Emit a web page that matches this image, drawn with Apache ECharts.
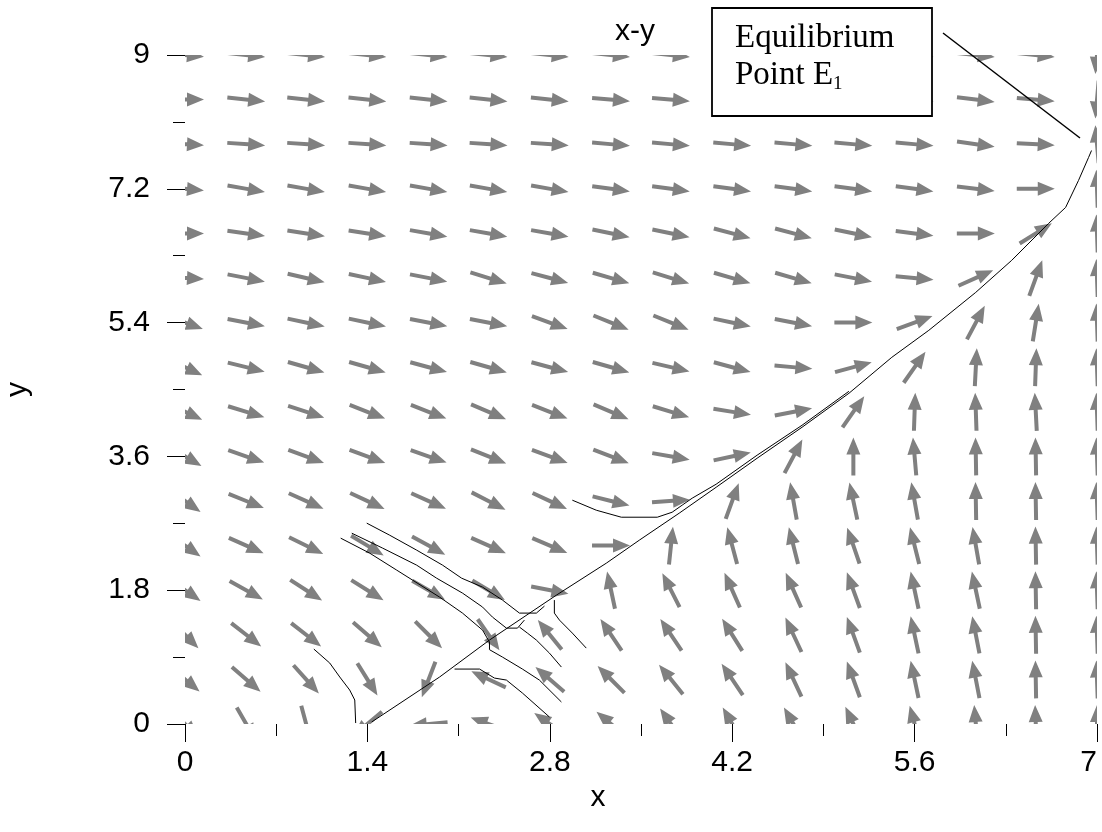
<!DOCTYPE html>
<html><head><meta charset="utf-8">
<script src="https://cdn.jsdelivr.net/npm/echarts@6/dist/echarts.min.js"></script>
<style>html,body{margin:0;padding:0;background:#fff}#c{width:1102px;height:832px}</style>
</head><body><div id="c"></div>
<script>
// ---- data ----
const xTickValues = [0, 1.4, 2.8, 4.2, 5.6, 7];
const yTickValues = [0, 1.8, 3.6, 5.4, 7.2, 9];
// direction-field sample points
const fieldX = [0, 0.47, 0.93, 1.4, 1.87, 2.33, 2.8, 3.27, 3.73, 4.2, 4.67, 5.13, 5.6, 6.07, 6.53, 7];
const fieldY = [0, 0.6, 1.2, 1.8, 2.4, 3.0, 3.6, 4.2, 4.8, 5.4, 6.0, 6.6, 7.2, 7.8, 8.4, 9.0];
// arrow direction (degrees, counter-clockwise from +x) for each row of fieldY, bottom to top
const angleRows = [
  [-45, -60, -75, -140, -175, 160, 145, 140, 125, 120, 120, 115, 105, 95, 92, 90],
  [-40, -41, -48, -58, -111, 155, 139, 135, 129, 124, 115, 110, 102, 101, 91, 92],
  [-45, -38, -38, -41, -45, -55, 129, 124, 124, 122, 115, 110, 102, 101, 91, 92],
  [-35, -29, -33, -32, -30, -31, -11, 102, 117, 114, 114, 110, 102, 102, 91, 92],
  [-35, -24, -26, -31, -29, -24, -23, 0, 84, 105, 104, 109, 104, 100, 91, 92],
  [-35, -22, -24, -25, -24, -27, -25, -14, 4, 70, 100, 102, 100, 91, 91, 92],
  [-30, -19, -20, -20, -19, -22, -20, -21, -10, 12, 62, 90, 95, 91, 91, 92],
  [-25, -17, -18, -21, -21, -23, -21, -23, -17, -9, 11, 55, 88, 92, 93, 92],
  [-25, -14, -16, -16, -15, -16, -15, -16, -13, -15, -5, 15, 55, 87, 88, 92],
  [-20, -11, -12, -12, -11, -11, -20, -22, -22, -12, -11, 0, 20, 62, 81, 92],
  [-3, -11, -13, -12, -11, -17, -15, -16, -17, -16, -16, -11, -5, 24, 70, 92],
  [0, -8, -9, -9, -10, -10, -10, -12, -12, -15, -15, -12, -7, 0, 32, 92],
  [-5, -10, -10, -10, -10, -10, -10, -8, -8, -8, -8, -8, -8, -7, 0, 92],
  [-3, -4, -4, -4, -4, -4, -4, -5, -5, -5, -5, -5, -5, -8, -3, 95],
  [0, -6, -6, -6, -6, -6, -6, -5, -5, -5, -5, -5, -5, -7, -5, -95],
  [-5, -6, -6, -6, -6, -6, -6, -6, -6, -6, -6, -6, -6, -6, -6, -95]
];
// trajectories [x, y]
const trajMain = [[1.433,0.027],[1.954,0.632],[2.337,1.129],[2.851,1.734],[3.234,2.164],[3.487,2.473],[3.793,2.836],[4.077,3.185],[4.391,3.575],[4.736,3.992],[5.096,4.449],[5.425,4.933],[5.709,5.296],[6.069,5.806],[6.345,6.237],[6.628,6.734],[6.759,6.949],[6.858,7.312],[6.935,7.621],[6.958,7.715]];
const trajUpper = [[2.973,3.011],[3.157,2.876],[3.349,2.782],[3.625,2.782],[3.739,2.849],[3.816,2.944],[3.893,3.038],[4.077,3.226],[4.391,3.616],[4.736,4.019],[5.096,4.476]];
const trajA = [[1.395,2.702],[1.571,2.540],[1.778,2.339],[1.977,2.137],[2.123,1.962],[2.284,1.841],[2.437,1.667],[2.567,1.492],[2.697,1.492],[2.759,1.586]];
const trajB = [[1.280,2.567],[1.517,2.366],[1.778,2.137],[1.931,1.962],[2.130,1.761],[2.284,1.573],[2.360,1.438],[2.467,1.290],[2.552,1.290],[2.605,1.398]];
const trajC = [[1.195,2.500],[1.418,2.298],[1.625,2.070],[1.954,1.707],[2.130,1.492],[2.284,1.263],[2.337,1.102],[2.337,1.000],[2.437,0.900],[2.590,0.739],[2.720,0.591],[2.889,0.296]];
const trajD = [[2.069,0.739],[2.261,0.739],[2.375,0.618],[2.467,0.591],[2.590,0.416],[2.797,0.094]];
const trajE = [[2.567,1.304],[2.628,1.223],[2.697,1.129],[2.797,0.954],[2.889,0.766]];
const trajF = [[2.835,1.667],[2.835,1.492],[2.874,1.398],[2.973,1.223],[3.080,1.021]];
const trajG = [[0.989,1.008],[1.111,0.820],[1.188,0.632],[1.264,0.457],[1.303,0.323],[1.310,0.013]];

// ---- build ----
const arrowData = [];
angleRows.forEach((row, j) => row.forEach((a, i) => arrowData.push([fieldX[i], fieldY[j], a])));
const ARROW = [[-19,-2],[2,-2],[2,-7],[19,0],[2,7],[2,2],[-19,2]];

function lineSeries(d) {
  return {type:'line', data:d, showSymbol:false, symbol:'none', silent:true, z:5, clip:true,
    lineStyle:{color:'#000', width:1}};
}

const chart = echarts.init(document.getElementById('c'), null, {renderer:'canvas'});
const FONT = '"Liberation Sans", Arial, sans-serif';
chart.setOption({
  animation:false,
  backgroundColor:'#fff',
  title:{text:'x-y', left:630, top:12, textAlign:'center',
    textStyle:{fontFamily:FONT, fontSize:30, fontWeight:'normal', color:'#000'}},
  grid:{left:185, right:5, top:55, bottom:108, containLabel:false, outerBoundsMode:'none'},
  xAxis:{type:'value', min:0, max:7, interval:1.4,
    name:'x', nameLocation:'middle', nameGap:52,
    nameTextStyle:{fontFamily:FONT, fontSize:30, color:'#000', padding:[0, 86, 0, 0]},
    axisLine:{show:false}, splitLine:{show:false},
    axisTick:{show:true, length:18, lineStyle:{color:'#000', width:1}},
    minorTick:{show:true, splitNumber:2, length:12, lineStyle:{color:'#000', width:1}},
    axisLabel:{fontFamily:FONT, fontSize:30, color:'#000', margin:24, hideOverlap:false,
      alignMaxLabel:'right',
      formatter:v => xTickValues.includes(+v.toFixed(2)) ? String(+v.toFixed(2)) : ''}},
  yAxis:{type:'value', min:0, max:9, interval:1.8,
    name:'y', nameLocation:'middle', nameGap:152,
    nameTextStyle:{fontFamily:FONT, fontSize:30, color:'#000'},
    axisLine:{show:false}, splitLine:{show:false},
    axisTick:{show:true, length:18, lineStyle:{color:'#000', width:1}},
    minorTick:{show:true, splitNumber:2, length:12, lineStyle:{color:'#000', width:1}},
    axisLabel:{fontFamily:FONT, fontSize:30, color:'#000', margin:35,
      formatter:v => yTickValues.includes(+v.toFixed(2)) ? String(+v.toFixed(2)) : ''}},
  series:[
    {type:'custom', data:arrowData, silent:true, z:2,
      renderItem:(params, api) => {
        const c = api.coord([api.value(0), api.value(1)]);
        const a = api.value(2) * Math.PI / 180;
        const dx = Math.cos(a), dy = -Math.sin(a);
        const nx = -dy, ny = dx;
        const pts = ARROW.map(([u, v]) => [c[0] + u*dx + v*nx, c[1] + u*dy + v*ny]);
        const cs = params.coordSys;
        return {type:'group',
          clipPath:{type:'rect', shape:{x:cs.x, y:cs.y, width:cs.width, height:cs.height}},
          children:[{type:'polygon', shape:{points:pts}, style:{fill:'#808080', stroke:null}}]};
      }},
    lineSeries(trajMain), lineSeries(trajUpper), lineSeries(trajA), lineSeries(trajB),
    lineSeries(trajC), lineSeries(trajD), lineSeries(trajE), lineSeries(trajF), lineSeries(trajG)
  ],
  graphic:[
    {type:'line', z:100, shape:{x1:943, y1:33, x2:1080, y2:138}, style:{stroke:'#000', lineWidth:1.5}},
    {type:'rect', z:100, shape:{x:712, y:8, width:220, height:108}, style:{fill:'#fff', stroke:'#000', lineWidth:1.8}},
    {type:'text', z:101, x:735, y:20, style:{
      text:'Equilibrium\nPoint E{sub|1}', fill:'#000',
      font:'33px "Liberation Serif", "Times New Roman", serif', lineHeight:37,
      rich:{sub:{fontSize:19, fontFamily:'"Liberation Serif", serif', verticalAlign:'bottom', padding:[12,0,0,0], lineHeight:37}}
    }}
  ]
});
</script></body></html>
